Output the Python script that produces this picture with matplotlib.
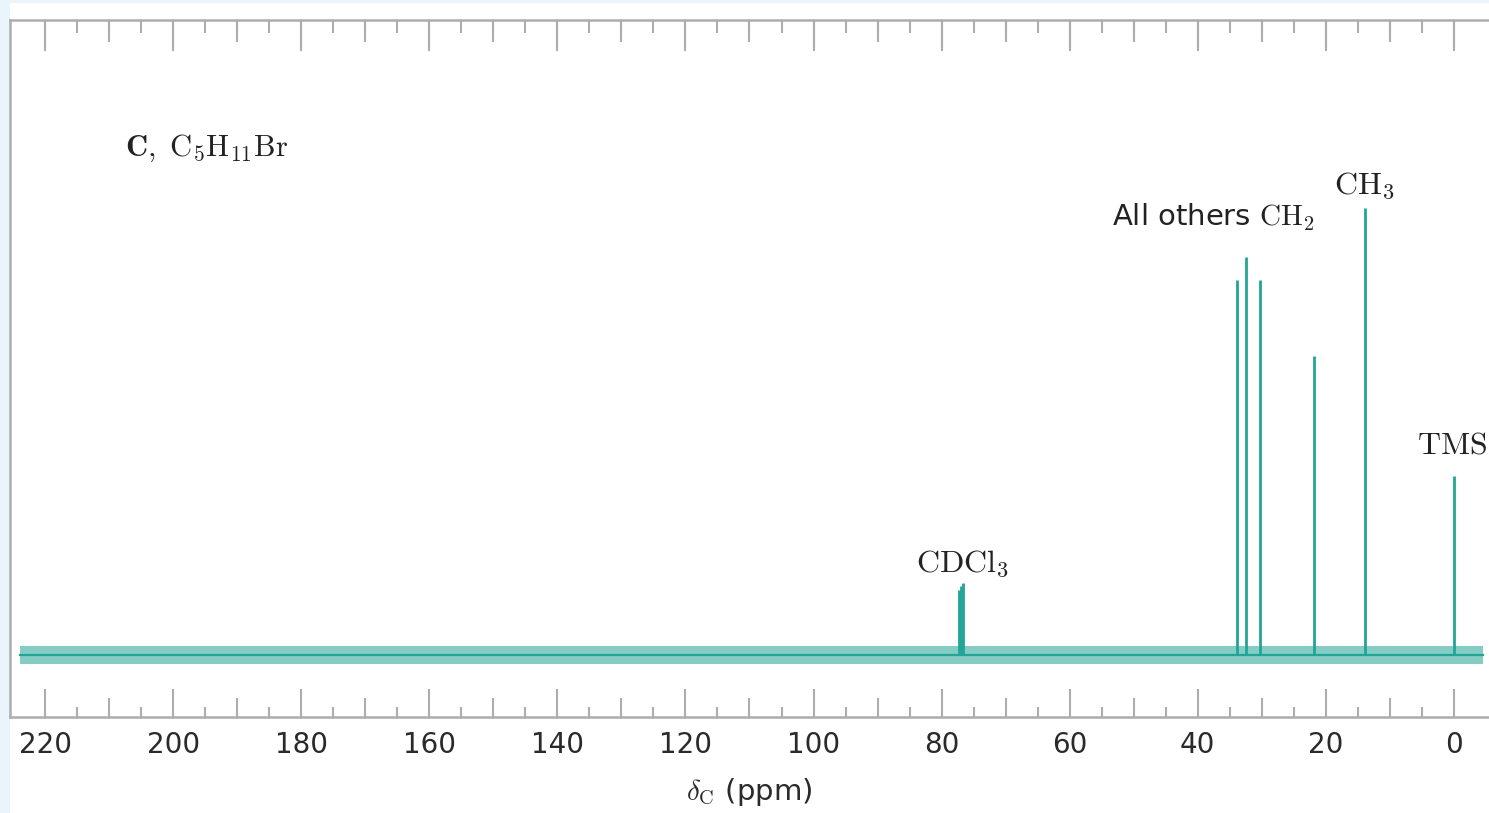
import numpy as np
import matplotlib
matplotlib.use("Agg")
import matplotlib.pyplot as plt
from matplotlib.patches import Rectangle
from matplotlib.ticker import MultipleLocator

plt.rcParams["font.family"] = ["DejaVu Sans"]
plt.rcParams["mathtext.fontset"] = "cm"

# 13C NMR of C5H11Br: chemical shifts (ppm) and relative peak heights
SHIFTS = [77.3, 77.0, 76.6, 33.8, 32.5, 30.3, 21.9, 13.9, 0.0]
HEIGHTS = [14.5, 15.5, 16.0, 84, 89, 84, 67, 100, 40]

# recorded range and baseline noise level (same intensity units)
SCAN_START, SCAN_END = 224.0, -4.5
NOISE_LEVEL = 2.0

# peak annotations: text, shift, height, alignment, size
LABELS = [
    (r"$\mathrm{CDCl_3}$", 76.7, 20.5, "center", 23),
    (r"All others $\mathrm{CH_2}$", 21.7, 98.0, "right", 21),
    (r"$\mathrm{CH_3}$", 13.9, 105.0, "center", 23),
    (r"$\mathrm{TMS}$", 0.2, 47.0, "center", 23),
]
TITLE = r"$\mathbf{C}\mathrm{,\ C_5H_{11}Br}$"

TEAL = "#22a595"
FRAME = "#adadad"
PANEL = "#eaf4fc"

fig = plt.figure(figsize=(14.89, 8.13), dpi=100)
fig.patch.set_facecolor(PANEL)
fig.patches.append(Rectangle((10 / 1489, 0), 1, 810 / 813, transform=fig.transFigure,
                             facecolor="white", edgecolor="none", zorder=-1))

ax = fig.add_axes([10 / 1489, 96 / 813, 1 - 10 / 1489, 697 / 813])
ax.set_facecolor("white")
ax.set_xlim(225.5, -5.5)
ax.set_ylim(-13.9, 142.1)

# baseline noise band and the resonance lines
ax.fill_between([SCAN_START, SCAN_END], -NOISE_LEVEL, NOISE_LEVEL,
                color=TEAL, alpha=0.55, linewidth=0)
ax.plot([SCAN_START, SCAN_END], [0, 0], color=TEAL, lw=1.6)
ax.vlines(SHIFTS, 0, HEIGHTS, color=TEAL, lw=2.0)

for text, x, y, ha, size in LABELS:
    ax.text(x, y, text, ha=ha, va="center", fontsize=size, color="#222222")
ax.text(207.5, 113.5, TITLE, ha="left", va="center", fontsize=22, color="#222222")

# frame
for side in ("left", "top", "bottom"):
    ax.spines[side].set_color(FRAME)
    ax.spines[side].set_linewidth(1.8)
ax.spines["right"].set_visible(False)
ax.yaxis.set_visible(False)

ax.xaxis.set_major_locator(MultipleLocator(20))
ax.xaxis.set_minor_locator(MultipleLocator(10))
ax.tick_params(axis="x", which="both", direction="in", top=True, color=FRAME,
               width=1.5, labelsize=20, labelcolor="#2a2a2a", pad=10)
ax.tick_params(axis="x", which="major", length=20)
ax.tick_params(axis="x", which="minor", length=14)
ax.set_xlabel(r"$\delta_\mathrm{C}$ (ppm)", fontsize=21, color="#2a2a2a", labelpad=12)

# short ticks every 5 ppm on both edges
five_ppm = np.arange(5, 225, 10)
for loc, length in (("bottom", 7), ("top", 9)):
    sec = ax.secondary_xaxis(loc)
    sec.set_xticks(five_ppm)
    sec.tick_params(direction="in", length=length, width=1.5, color=FRAME,
                    labelbottom=False, labeltop=False)
    sec.spines[loc].set_visible(False)

# longer ticks on the top edge
top = ax.secondary_xaxis("top")
top.xaxis.set_major_locator(MultipleLocator(20))
top.xaxis.set_minor_locator(MultipleLocator(10))
top.tick_params(which="major", direction="in", length=22, width=1.5, color=FRAME, labeltop=False)
top.tick_params(which="minor", direction="in", length=16, width=1.5, color=FRAME)
top.spines["top"].set_visible(False)

fig.savefig("out.png", dpi=100, facecolor=fig.get_facecolor())
